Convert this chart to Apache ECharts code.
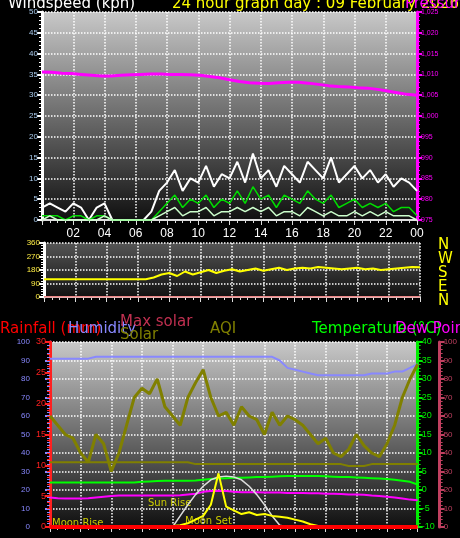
<!DOCTYPE html><html><head><meta charset="utf-8"><script src="https://cdn.jsdelivr.net/npm/echarts@6/dist/echarts.min.js"></script>
<style>html,body{margin:0;background:#000}#c{width:460px;height:538px}</style></head><body><div id="c"></div><script>
const hourLabels=['02','04','06','08','10','12','14','16','18','20','22','00'];
const gust=[3,4,3,2,4,3,0,3,4,0,0,0,0,0,2,7,9,12,7,10,9,13,8,11,10,14,9,16,10,12,8,13,11,9,14,12,10,15,9,11,13,10,12,9,11,8,10,9,7];
const avgWind=[1,1,1,0,1,1,0,1,1,0,0,0,0,0,0,2,4,6,3,5,4,6,3,5,4,7,4,8,5,6,3,6,5,4,7,5,4,6,3,4,5,3,4,3,4,2,3,3,1];
const lowWind=[0,1,0,0,0,0,0,0,1,0,0,0,0,0,0,1,2,3,1,2,2,3,1,2,2,3,2,3,2,3,1,2,2,1,3,2,1,2,1,1,2,1,2,1,2,1,1,1,0];
const pressure=[1010.6,1010.5,1010.3,1010.2,1010,1009.8,1009.6,1009.6,1009.8,1009.9,1010,1010.1,1010.1,1010,1010,1009.9,1009.8,1009.5,1009.2,1008.7,1008.3,1008,1007.9,1007.8,1008,1008.1,1008.1,1007.9,1007.6,1007.3,1007.1,1007,1006.8,1006.7,1006.4,1006,1005.6,1005.2,1005];
const windDir=[118,118,118,118,118,118,118,118,118,118,118,118,118,118,130,150,160,140,170,150,165,180,160,175,185,170,180,190,175,185,195,180,190,195,190,200,195,190,185,190,195,185,190,180,185,190,195,200,198];
const humidity=[91,91,91,91,91,91,92,92,92,92,92,92,92,92,92,92,92,92,92,92,92,92,92,92,92,92,92,92,92,92,90,86,85,84,83,82,82,82,82,82,82,82,83,83,83,84,84,86,88];
const aqi=[60,55,50,48,40,35,50,45,30,40,55,70,75,72,80,65,60,55,70,78,85,70,60,62,55,65,60,58,50,62,55,60,58,55,50,45,48,40,38,42,50,44,40,38,45,55,70,80,88];
const aqiBase=[35,35,35,35,35,35,35,35,35,35,35,35,35,35,35,35,35,35,35,34,34,34,34,34,34,34,34,34,34,34,34,34,34,34,34,34,34,34,34,33,33,33,34,34,34,34,34,34,34];
const temp=[2,2,2,2,2,2,2,2,2,2,2,2,2.2,2.3,2.4,2.5,2.5,2.5,2.5,2.6,2.8,3,3.1,3.2,3.3,3.3,3.4,3.5,3.5,3.6,3.7,3.8,3.8,3.8,3.8,3.8,3.7,3.6,3.5,3.5,3.4,3.3,3.2,3.1,3,2.8,2.5,2.2,1.5];
const dew=[-2,-2.2,-2.3,-2.3,-2.3,-2.2,-2,-1.8,-1.6,-1.5,-1.5,-1.5,-1.5,-1.5,-1.5,-1.5,-1.5,-1.4,-1.2,-1,-0.5,-0.3,-0.2,-0.3,-0.5,-0.6,-0.6,-0.6,-0.7,-0.7,-0.7,-0.8,-0.8,-0.8,-0.9,-0.9,-1,-1,-1.1,-1.2,-1.2,-1.3,-1.5,-1.6,-1.8,-2,-2.3,-2.6,-2.8];
const solar=[0,0,0,0,0,0,0,0,0,0,0,0,0,0,0,0,5,10,20,40,60,120,290,110,90,70,80,65,70,60,55,50,40,30,15,5,0,0,0,0,0,0,0,0,0,0,0,0,0];
const maxSolar=[0,0,0,0,0,0,0,0,0,0,0,0,0,0,0,0,0,60,120,175,220,255,270,275,270,255,220,175,120,60,10,0,0,0,0,0,0,0,0,0,0,0,0,0,0,0,0,0,0];
const rain=Array(49).fill(0);
const pts=a=>a.map((v,i)=>[i*24/(a.length-1),v]);
const bg={type:'linear',x:0,y:0,x2:0,y2:1,colorStops:[{offset:0,color:'#c8c8c8'},{offset:1,color:'#101010'}]};
const gl={show:true,lineStyle:{color:'#fff',type:'dotted',width:1.5}};
const xa=(gi,lab)=>({type:'value',gridIndex:gi,min:0,max:24,interval:2,splitLine:gl,axisLine:{lineStyle:{color:'#ddd',width:2}},axisTick:{show:true,lineStyle:{color:'#ddd'}},minorTick:{show:true,splitNumber:4,lineStyle:{color:'#ddd'}},
 axisLabel:{show:lab,color:'#ffffff',fontSize:12,formatter:v=>v===0?'':hourLabels[v/2-1]}});
const ya=(gi,min,max,iv,col,pos,off,show,fs,lc)=>({type:'value',gridIndex:gi,min,max,interval:iv,position:pos,offset:off||0,splitLine:{show:false},
 axisLine:{show:show!==false,lineStyle:{color:lc||col,width:3}},axisTick:{show:show!==false,inside:false,lineStyle:{color:lc||col,width:2}},minorTick:{show:show!==false,splitNumber:5,lineStyle:{color:lc||col}},
 axisLabel:{show:show!==false,color:col,fontSize:fs||8,margin:4}});
const ln=(x,y,d,c,w,z)=>({type:'line',xAxisIndex:x,yAxisIndex:y,data:pts(d),showSymbol:false,lineStyle:{color:c,width:w||2},itemStyle:{color:c},z:z||2});
const T=(t,l,top,c,fs)=>({type:'text',left:l,top:top,style:{text:t,fill:c,font:(fs||15)+'px "DejaVu Sans"'}});
const yTop=ya(0,0,50,5,'#aaccee','left',0,true,8,'#ffffff');yTop.splitLine=gl;
const yMid=ya(1,0,360,90,'#ffee44','left',0,true,8,'#ffffff');yMid.splitLine=gl;
const yHum=ya(2,0,100,10,'#8888ff','left',16,true,8);yHum.splitLine=gl;
option={backgroundColor:'#000',animation:false,
grid:[{left:42,right:43,top:12,height:208,show:true,backgroundColor:bg,borderWidth:0},
{left:44,right:40,top:243,height:54,show:true,backgroundColor:{type:'linear',x:0,y:0,x2:0,y2:1,colorStops:[{offset:0,color:'#555'},{offset:1,color:'#111'}]},borderWidth:0},
{left:50,right:40,top:342,height:185,show:true,backgroundColor:bg,borderWidth:0}],
xAxis:[xa(0,true),xa(1,false),xa(2,false)],
yAxis:[yTop,ya(0,975,1025,5,'#ff00ff','right',0,true,7),yMid,yHum,ya(2,0,30,5,'#ff2020','left',0,true,9),ya(2,-10,40,5,'#00ee00','right',0,true,9),ya(2,0,1000,100,'#fff','right',0,false),ya(2,0,100,10,'#c04060','right',22,true,8)],
series:[ln(0,0,gust,'#ffffff',2),ln(0,0,avgWind,'#00dd00',1.5,3),ln(0,0,lowWind,'#ccffcc',1.5,4),ln(0,1,pressure,'#ff00ff',3),
ln(1,2,windDir,'#ffff00',2),ln(1,2,Array(49).fill(0),'#ff3030',1),
ln(2,3,humidity,'#8888ff',2),ln(2,3,aqi,'#808000',3),ln(2,3,aqiBase,'#808000',2),ln(2,5,temp,'#00ff00',2),ln(2,5,dew,'#ff00ff',2),
ln(2,6,maxSolar,'#dddddd',1.5),ln(2,6,solar,'#ffff00',2),ln(2,4,rain,'#ff0000',4)],
graphic:[T('Windspeed (kph)',8,-3,'#fff'),T('24 hour graph day : 09 February 2026',172,-3,'#ffff00'),T('Pressure (hPa)',405,-3,'#ff00ff'),
{type:'group',left:438,top:238,children:['N','W','S','E','N'].map((s,i)=>({type:'text',x:0,y:i*14,style:{text:s,fill:'#ffff00',font:'15px "DejaVu Sans"'}}))},
T('Rainfall (mm)',0,322,'#ff0000'),T('Humidity',68,322,'#8888ff'),T('Max solar',120,315,'#c03050'),T('Solar',120,328,'#808000'),T('AQI',210,322,'#808000'),
T('Temperature (°C)',312,322,'#00ff00'),T('Dew Point',395,322,'#ff00ff'),
T('Sun Rise',148,498,'#cccc00',10),T('Moon Rise',52,518,'#cccc00',10),T('Moon Set',185,516,'#cccc00',10)]};
echarts.init(document.getElementById('c')).setOption(option);
</script></body></html>
